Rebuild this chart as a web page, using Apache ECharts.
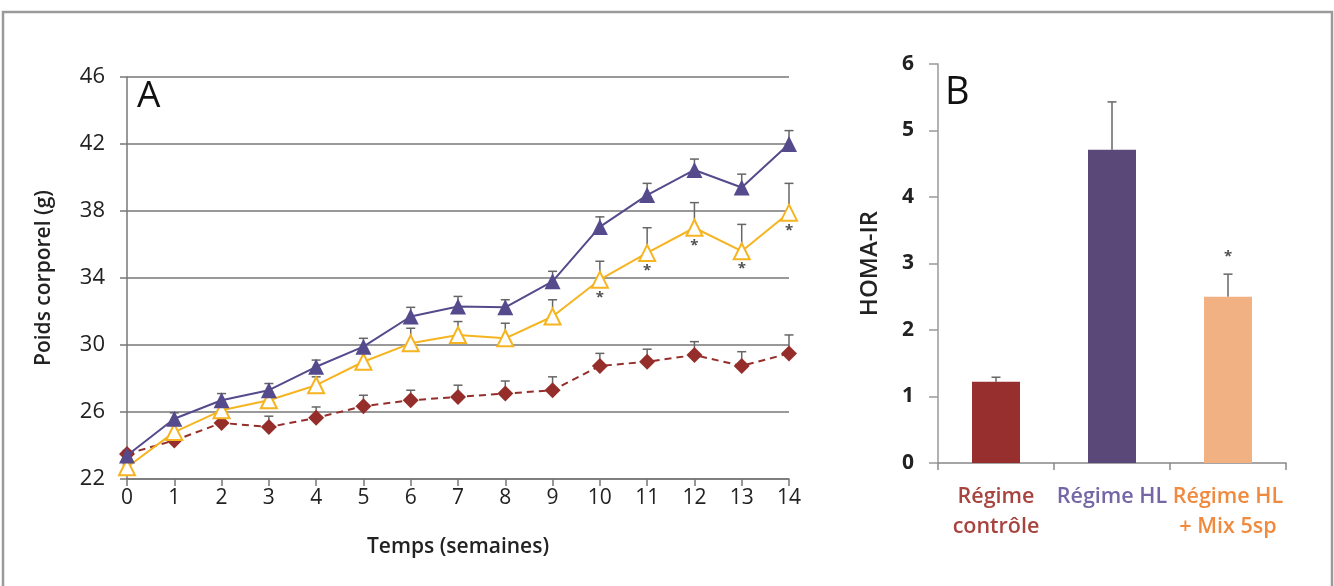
<!DOCTYPE html>
<html><head><meta charset="utf-8">
<script src="https://cdn.jsdelivr.net/npm/echarts@6/dist/echarts.min.js"></script>
<style>html,body{margin:0;padding:0;background:#fff}#c{width:1334px;height:586px}</style>
</head><body><div id="c"></div>
<script>
// ---- Panel A data ----
const weeks = [0,1,2,3,4,5,6,7,8,9,10,11,12,13,14];
const hlMean   = [23.4,25.6,26.7,27.3,28.7,29.9,31.7,32.3,32.25,33.8,37.05,38.95,40.45,39.4,42.0];
const hlErr    = [0.2,0.35,0.4,0.4,0.4,0.5,0.55,0.6,0.45,0.6,0.6,0.7,0.65,0.8,0.8];
const mixMean  = [22.7,24.8,26.1,26.7,27.6,29.0,30.1,30.6,30.4,31.7,33.9,35.5,37.0,35.6,37.9];
const mixErr   = [0.2,0.4,0.4,0.5,0.5,0.6,0.9,0.8,0.9,1.0,1.1,1.5,1.5,1.6,1.75];
const ctrlMean = [23.5,24.3,25.35,25.1,25.65,26.35,26.7,26.9,27.1,27.3,28.75,29.0,29.4,28.75,29.5];
const ctrlErr  = [0.2,0.3,0.4,0.65,0.65,0.65,0.6,0.7,0.75,0.8,0.75,0.75,0.8,0.85,1.1];
const starWeeks = [10,11,12,13,14];
const yTicksA = [22,26,30,34,38,42,46];

// ---- Panel B data ----
const groups = ['Régime\ncontrôle','Régime HL','Régime HL\n+ Mix 5sp'];
const homa    = [1.22,4.71,2.50];
const homaErr = [0.07,0.72,0.34];
const homaStar = [null,null,3.1];

const cPurple='#554a8c', cYellow='#f5b420', cRed='#952e2b';
const barColors=['#962f2e','#5a4878','#f2b183'];
const labelColors=['#a8443f','#7566a6','#ef8a3e'];
const font='"Open Sans", sans-serif';

function errSeries(xIdx, yIdx, xs, means, errs, color){
  return {
    type:'custom', xAxisIndex:xIdx, yAxisIndex:yIdx, z:1,
    data: xs.map((x,i)=>[x, means[i], means[i]+errs[i]]),
    renderItem:function(params, api){
      const p0=api.coord([api.value(0), api.value(1)]);
      const p1=api.coord([api.value(0), api.value(2)]);
      const hw=4.5;
      return {type:'group', children:[
        {type:'line', shape:{x1:p0[0],y1:p0[1],x2:p1[0],y2:p1[1]}, style:{stroke:color,lineWidth:1.5}},
        {type:'line', shape:{x1:p1[0]-hw,y1:p1[1],x2:p1[0]+hw,y2:p1[1]}, style:{stroke:color,lineWidth:1.5}}
      ]};
    }
  };
}

const chart = echarts.init(document.getElementById('c'));
chart.setOption({
  animation:false,
  backgroundColor:'#fff',
  graphic:[
    {type:'rect', shape:{x:3,y:12,width:1329,height:600}, style:{fill:'none',stroke:'#9a9a9a',lineWidth:2.5}, z:-10},
    {type:'text', left:137, top:78, style:{text:'A', font:'37px '+font, fill:'#111'}},
    {type:'text', left:945, top:74, style:{text:'B', font:'38px '+font, fill:'#111'}}
  ],
  grid:[
    {left:127, right:545, top:77, bottom:107},
    {left:938, right:48, top:64, bottom:123}
  ],
  xAxis:[
    {type:'value', gridIndex:0, min:0, max:14, interval:1,
     name:'Temps (semaines)', nameLocation:'middle', nameGap:58,
     nameTextStyle:{fontFamily:font, fontSize:21, fontWeight:600, color:'#222'},
     axisLine:{lineStyle:{color:'#777',width:1.5}},
     axisTick:{show:true,length:7,lineStyle:{color:'#777',width:1.5}},
     axisLabel:{fontFamily:font,fontSize:21,color:'#222',margin:9},
     splitLine:{show:false}},
    {type:'category', gridIndex:1, data: groups.map((g,i)=>({value:g, textStyle:{color:labelColors[i]}})),
     axisLine:{lineStyle:{color:'#888',width:1.5}},
     axisTick:{show:true,length:7,lineStyle:{color:'#888',width:1.5}},
     axisLabel:{fontFamily:font,fontSize:21.5,fontWeight:600,lineHeight:30,margin:19,interval:0}}
  ],
  yAxis:[
    {type:'value', gridIndex:0, min:22, max:46, interval:4,
     name:'Poids corporel (g)', nameLocation:'middle', nameGap:72, nameRotate:90,
     nameTextStyle:{fontFamily:font, fontSize:21, fontWeight:600, color:'#222'},
     axisLine:{show:true,lineStyle:{color:'#777',width:1.5}},
     axisTick:{show:true,length:7,lineStyle:{color:'#777',width:1.5}},
     axisLabel:{fontFamily:font,fontSize:22,color:'#222',margin:22,
       formatter:v=>yTicksA.includes(v)?String(v):''},
     splitLine:{show:true,lineStyle:{color:'#777',width:1.5}}},
    {type:'value', gridIndex:1, min:0, max:6, interval:1,
     name:'HOMA-IR', nameLocation:'middle', nameGap:56, nameRotate:90,
     nameTextStyle:{fontFamily:font, fontSize:24, fontWeight:600, color:'#222'},
     axisLine:{show:true,lineStyle:{color:'#999',width:1.5}},
     axisTick:{show:true,length:9,lineStyle:{color:'#999',width:1.5}},
     axisLabel:{fontFamily:font,fontSize:21,fontWeight:'bold',color:'#222',margin:24},
     splitLine:{show:false}}
  ],
  series:[
    errSeries(0,0,weeks,ctrlMean,ctrlErr,'#666'),
    errSeries(0,0,weeks,mixMean,mixErr,'#666'),
    errSeries(0,0,weeks,hlMean,hlErr,'#666'),
    {type:'line', xAxisIndex:0, yAxisIndex:0, z:3, data:weeks.map((w,i)=>[w,ctrlMean[i]]),
     lineStyle:{color:cRed,width:2,type:[7,5]}, symbol:'diamond', symbolSize:16,
     itemStyle:{color:cRed}},
    {type:'line', xAxisIndex:0, yAxisIndex:0, z:4, data:weeks.map((w,i)=>[w,mixMean[i]]),
     lineStyle:{color:cYellow,width:2}, symbol:'triangle', symbolSize:16,
     itemStyle:{color:'#fff',borderColor:cYellow,borderWidth:2}},
    {type:'line', xAxisIndex:0, yAxisIndex:0, z:5, data:weeks.map((w,i)=>[w,hlMean[i]]),
     lineStyle:{color:cPurple,width:2}, symbol:'triangle', symbolSize:16,
     itemStyle:{color:cPurple}},
    {type:'scatter', xAxisIndex:0, yAxisIndex:0, z:6, symbolSize:1, itemStyle:{color:'transparent'},
     data: starWeeks.map(w=>[w, mixMean[weeks.indexOf(w)]]),
     label:{show:true, position:'bottom', distance:10, formatter:'*', fontSize:15, fontWeight:'bold', color:'#222', fontFamily:font}},
    {type:'bar', xAxisIndex:1, yAxisIndex:1, barWidth:48, z:2,
     data: homa.map((v,i)=>({value:v, itemStyle:{color:barColors[i]}}))},
    errSeries(1,1,[0,1,2],homa,homaErr,'#666'),
    {type:'scatter', xAxisIndex:1, yAxisIndex:1, symbolSize:1, itemStyle:{color:'transparent'},
     data: homaStar.map((v,i)=>v==null?null:[i,v]).filter(d=>d),
     label:{show:true, position:'inside', formatter:'*', fontSize:15, fontWeight:'bold', color:'#222', fontFamily:font}}
  ]
});
</script></body></html>
